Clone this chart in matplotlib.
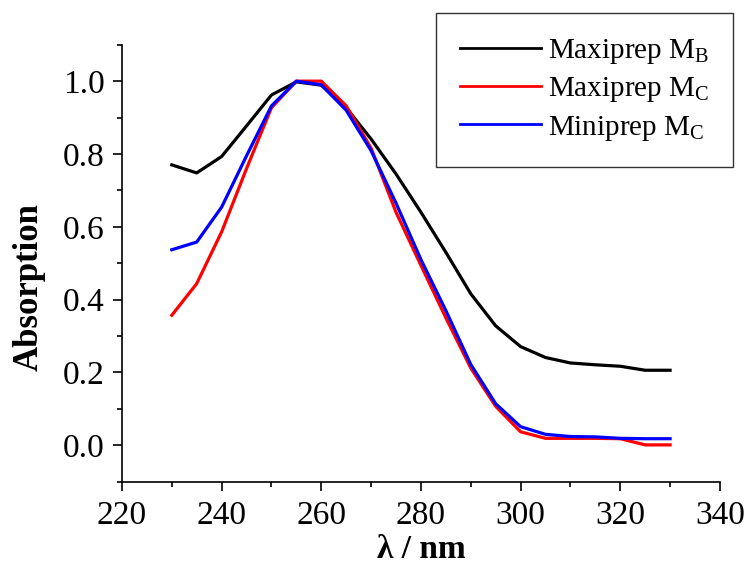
import numpy as np
import matplotlib.pyplot as plt
from matplotlib.ticker import MultipleLocator

plt.rcParams['font.family'] = ['Liberation Serif', 'DejaVu Serif']
plt.rcParams['mathtext.fontset'] = 'custom'
plt.rcParams['mathtext.rm'] = 'Liberation Serif'

wavelength = [230, 235, 240, 245, 250, 255, 260, 265, 270, 275, 280,
              285, 290, 295, 300, 305, 310, 315, 320, 325, 330]
maxi_mb = [0.77, 0.748, 0.793, 0.877, 0.962, 0.998, 0.989, 0.927, 0.841, 0.745, 0.64,
           0.53, 0.416, 0.328, 0.271, 0.241, 0.226, 0.221, 0.217, 0.206, 0.206]
maxi_mc = [0.357, 0.444, 0.586, 0.76, 0.927, 1.0, 1.0, 0.932, 0.816, 0.64, 0.494,
           0.35, 0.212, 0.107, 0.037, 0.019, 0.019, 0.019, 0.018, 0.001, 0.001]
mini_mc = [0.537, 0.558, 0.654, 0.795, 0.932, 1.0, 0.99, 0.92, 0.809, 0.665, 0.51,
           0.37, 0.222, 0.114, 0.051, 0.03, 0.024, 0.023, 0.019, 0.018, 0.018]
labels = [r'Maxiprep M$_\mathregular{B}$', r'Maxiprep M$_\mathregular{C}$',
          r'Miniprep M$_\mathregular{C}$']

fig = plt.figure(figsize=(7.46, 5.67), dpi=100)
ax = fig.add_axes([0.1635, 0.1505, 0.8015, 0.7706])

ax.plot(wavelength, maxi_mb, color='black', lw=2.3, label=labels[0])
ax.plot(wavelength, maxi_mc, color='red', lw=2.3, label=labels[1])
ax.plot(wavelength, mini_mc, color='blue', lw=2.3, label=labels[2])

ax.set_xlim(220, 340)
ax.set_ylim(-0.1, 1.1)
ax.xaxis.set_major_locator(MultipleLocator(20))
ax.xaxis.set_minor_locator(MultipleLocator(10))
ax.set_yticks([0.0, 0.2, 0.4, 0.6, 0.8, 1.0])
ax.set_yticklabels(['0.0', '0.2', '0.4', '0.6', '0.8', '1.0'])
ax.yaxis.set_minor_locator(MultipleLocator(0.1))

for s in ['top', 'right']:
    ax.spines[s].set_visible(False)
for s in ['left', 'bottom']:
    ax.spines[s].set_linewidth(1.2)
ax.tick_params(which='major', direction='out', length=6.5, width=1.2, labelsize=24)
ax.tick_params(which='minor', direction='out', length=3.5, width=1.2)
ax.tick_params(axis='x', which='major', pad=7)
ax.tick_params(axis='y', which='major', pad=6)

fig.text(421 / 746, 0.003, 'λ / nm', fontsize=24, fontweight='bold', ha='center', va='bottom')
fig.text(29 / 746, 1 - 287 / 567, 'Absorption', fontsize=25, fontweight='bold',
         rotation=90, ha='center', va='center')

leg = ax.legend(loc='upper right', bbox_to_anchor=(733 / 746, 1 - 13 / 567),
                bbox_transform=fig.transFigure,
                fontsize=21, frameon=True, fancybox=False, handlelength=2.75,
                borderpad=0.82, labelspacing=0.32, handletextpad=0.25, borderaxespad=0)
leg.get_frame().set_edgecolor('black')
leg.get_frame().set_linewidth(1.0)
for line in leg.get_lines():
    line.set_linewidth(2.0)

plt.savefig('out.png')
